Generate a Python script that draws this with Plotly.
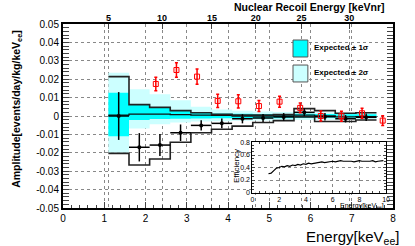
import plotly.graph_objects as go

# ---------------- data ----------------
bin_edges = [1.1, 1.6, 2.1, 2.6, 3.1, 3.6, 4.1, 4.6, 5.1, 5.6, 6.1, 6.6, 7.1, 7.6]

band2_lo = [-0.0200, -0.0068, -0.0045, -0.0035, -0.0030, -0.0028, -0.0026, -0.0025, -0.0025, -0.0022, -0.0022, -0.0020, -0.0020]
band2_hi = [0.0235, 0.0145, 0.0118, 0.0085, 0.0050, 0.0035, 0.0028, 0.0024, 0.0022, 0.0022, 0.0020, 0.0018, 0.0018]
band1_lo = [-0.0110, -0.0022, -0.0016, -0.0015, -0.0013, -0.0012, -0.0012, -0.0012, -0.0012, -0.0011, -0.0010, -0.0010, -0.0010]
band1_hi = [0.0127, 0.0060, 0.0045, 0.0030, 0.0018, 0.0013, 0.0012, 0.0011, 0.0011, 0.0012, 0.0011, 0.0010, 0.0010]
median = [0.0005, 0.0010, 0.0010, 0.0008, 0.0005, 0.0003, 0.0000, 0.0000, 0.0000, 0.0005, 0.0000, -0.0005, -0.0003]

upper_env = [0.0214, 0.0062, 0.0047, 0.0029, 0.0018, 0.0009, 0.0005, 0.0005, 0.0008, 0.0040, 0.0029, 0.0015, 0.0018]
lower_env = [-0.0203, -0.0266, -0.0234, -0.0143, -0.0091, -0.0072, -0.0055, -0.0035, -0.0025, -0.0005, -0.0030, -0.0030, -0.0022]

data_e = [1.35, 1.85, 2.35, 2.85, 3.35, 3.85, 4.35, 4.85, 5.35, 5.85, 6.35, 6.85, 7.35]
data_a = [0.0000, -0.0170, -0.0158, -0.0091, -0.0051, -0.0040, -0.0015, -0.0011, -0.0005, 0.0020, -0.0004, -0.0015, -0.0007]
data_err = [0.0130, 0.0077, 0.0060, 0.0045, 0.0028, 0.0026, 0.0025, 0.0022, 0.0021, 0.0021, 0.0020, 0.0020, 0.0020]
data_halfwidth = [0.25] * 13

red_e = [2.25, 2.75, 3.25, 3.75, 4.25, 4.75, 5.25, 5.75, 6.25, 6.75, 7.25, 7.75]
red_a = [0.0174, 0.0250, 0.0214, 0.0082, 0.0080, 0.0054, 0.0078, 0.0044, 0.0000, -0.0001, 0.0015, -0.0025]
red_err = [0.0037, 0.0040, 0.0042, 0.0036, 0.0036, 0.0030, 0.0030, 0.0027, 0.0027, 0.0027, 0.0027, 0.0027]

y_tick_vals = [-0.05, -0.04, -0.03, -0.02, -0.01, 0, 0.01, 0.02, 0.03, 0.04, 0.05]
y_tick_text = ["-0.05", "-0.04", "-0.03", "-0.02", "-0.01", "0", "0.01", "0.02", "0.03", "0.04", "0.05"]

nr_tick_labels = ["5", "10", "15", "20", "25", "30"]
nr_tick_ee = [1.10, 2.40, 3.61, 4.67, 5.78, 6.94]

eff_e = [1.2, 1.4, 1.6, 1.8, 2.0, 2.2, 2.4, 2.6, 2.8, 3.0, 3.2, 3.4, 3.6, 3.8, 4.0, 4.2, 4.4, 4.6, 4.8, 5.0,
         5.2, 5.4, 5.6, 5.8, 6.0, 6.2, 6.4, 6.6, 6.8, 7.0, 7.2, 7.4, 7.6, 7.8, 8.0, 8.2, 8.4, 8.6, 8.8, 9.0,
         9.2, 9.4, 9.6, 9.8]
eff_v = [0.30, 0.31, 0.35, 0.39, 0.40, 0.42, 0.41, 0.43, 0.42, 0.44, 0.43, 0.45, 0.44, 0.46, 0.45, 0.47, 0.46, 0.47, 0.48, 0.48,
         0.49, 0.48, 0.49, 0.49, 0.50, 0.49, 0.50, 0.51, 0.50, 0.50, 0.51, 0.50, 0.49, 0.50, 0.51, 0.50, 0.50, 0.49, 0.50, 0.51,
         0.49, 0.50, 0.50, 0.51]


def step(v):
    return list(v) + [v[-1]]


FONT = "Liberation Sans, Arial, Helvetica, sans-serif"
CYAN = "#00ffff"
LCYAN = "#ccffff"

fig = go.Figure()

fig.add_trace(go.Scatter(x=bin_edges, y=step(band2_lo), mode="lines", line=dict(width=0, shape="hv"),
                         showlegend=False, hoverinfo="skip"))
fig.add_trace(go.Scatter(x=bin_edges, y=step(band2_hi), mode="lines", line=dict(width=0, shape="hv"),
                         fill="tonexty", fillcolor=LCYAN, showlegend=False, hoverinfo="skip"))
fig.add_trace(go.Scatter(x=bin_edges, y=step(band1_lo), mode="lines", line=dict(width=0, shape="hv"),
                         showlegend=False, hoverinfo="skip"))
fig.add_trace(go.Scatter(x=bin_edges, y=step(band1_hi), mode="lines", line=dict(width=0, shape="hv"),
                         fill="tonexty", fillcolor=CYAN, showlegend=False, hoverinfo="skip"))
fig.add_trace(go.Scatter(x=bin_edges, y=step(median), mode="lines", line=dict(width=1.3, color="#111", shape="hv"),
                         showlegend=False))
fig.add_trace(go.Scatter(x=bin_edges, y=step(upper_env), mode="lines", line=dict(width=1.6, color="#222", shape="hv"),
                         showlegend=False))
fig.add_trace(go.Scatter(x=bin_edges, y=step(lower_env), mode="lines", line=dict(width=1.6, color="#222", shape="hv"),
                         showlegend=False))

fig.add_trace(go.Scatter(x=data_e, y=data_a, mode="markers",
                         marker=dict(symbol="circle", size=4, color="black"),
                         error_y=dict(type="data", array=data_err, color="black", thickness=1.5, width=0),
                         error_x=dict(type="data", array=data_halfwidth, color="black", thickness=1.5, width=0),
                         showlegend=False))
fig.add_trace(go.Scatter(x=red_e, y=red_a, mode="markers",
                         marker=dict(symbol="square-open", size=5, color="red", line=dict(width=1, color="red")),
                         error_y=dict(type="data", array=red_err, color="red", thickness=1.5, width=1.5),
                         showlegend=False))

fig.add_trace(go.Scatter(x=eff_e, y=eff_v, mode="lines", line=dict(color="black", width=1.2),
                         xaxis="x3", yaxis="y3", showlegend=False))

fig.add_trace(go.Scatter(x=[0], y=[0], mode="markers", marker=dict(opacity=0), xaxis="x2", yaxis="y",
                         showlegend=False, hoverinfo="skip"))

grid = dict(showgrid=True, gridcolor="#888", gridwidth=1, griddash="dot", automargin=False)

fig.update_layout(
    template="none",
    autosize=False,
    width=415, height=246,
    margin=dict(l=63, r=22, t=24, b=38, pad=0),
    paper_bgcolor="white", plot_bgcolor="white",
    font=dict(family=FONT, color="black", size=10),
    showlegend=False,
    xaxis=dict(range=[0, 8], dtick=1, tick0=0, ticks="inside", ticklen=6, tickwidth=1,
               showline=True, linecolor="black", linewidth=2, mirror=True, zeroline=False,
               minor=dict(ticks="inside", ticklen=3, dtick=0.2, showgrid=False),
               tickfont=dict(size=10), **grid),
    yaxis=dict(range=[-0.05, 0.05], tickvals=y_tick_vals, ticktext=y_tick_text, ticks="inside", ticklen=6,
               showline=True, linecolor="black", linewidth=2, mirror="allticks", zeroline=False,
               minor=dict(ticks="inside", ticklen=3, dtick=0.002, tick0=0, showgrid=False),
               tickfont=dict(size=10), **grid),
    xaxis2=dict(range=[0, 8], overlaying="x", side="top", anchor="y", tickvals=nr_tick_ee, ticktext=nr_tick_labels,
                ticks="inside", ticklen=5, showline=False, zeroline=False,
                tickfont=dict(size=9, weight="bold"), **grid),
    xaxis3=dict(domain=[0.574, 0.979], anchor="y3", range=[0, 10], tickvals=[0, 2, 4, 6, 8, 10],
                ticks="inside", ticklen=3, showline=True, linecolor="black", linewidth=1, mirror="allticks",
                zeroline=False, tickfont=dict(size=7), ticklabelstandoff=0,
                minor=dict(ticks="inside", ticklen=2, dtick=0.5, showgrid=False), **grid),
    yaxis3=dict(domain=[0.084, 0.356], anchor="x3", range=[0, 0.8], tickvals=[0, 0.2, 0.4, 0.6, 0.8],
                ticks="inside", ticklen=3, showline=True, linecolor="black", linewidth=1, mirror="allticks",
                zeroline=False, tickfont=dict(size=7),
                minor=dict(ticks="inside", ticklen=2, dtick=0.05, showgrid=False), **grid),
    shapes=[
        dict(type="rect", xref="x3", yref="y3", x0=0, x1=10, y0=0, y1=0.8, fillcolor="white",
             line=dict(width=0), layer="below"),
        dict(type="rect", xref="paper", yref="paper", x0=0.697, x1=0.742, y0=0.8207, y1=0.913,
             fillcolor=CYAN, line=dict(color="#555", width=1)),
        dict(type="rect", xref="paper", yref="paper", x0=0.697, x1=0.742, y0=0.685, y1=0.777,
             fillcolor=LCYAN, line=dict(color="#555", width=1)),
    ],
    annotations=[
        dict(text="Nuclear Recoil Energy [keVnr]", xref="paper", yref="paper", x=0.982, y=1.094,
             xanchor="right", yanchor="middle", showarrow=False, font=dict(size=10.5, weight="bold")),
        dict(text="Amplitude[events/day/kg/keV<sub>ee</sub>]", xref="paper", yref="paper", x=-0.14, y=0.538,
             xanchor="center", yanchor="middle", textangle=-90, showarrow=False,
             font=dict(size=10.5, weight="bold")),
        dict(text="Energy[keV<sub>ee</sub>]", xref="paper", yref="paper", x=1.024, y=-0.163,
             xanchor="right", yanchor="middle", showarrow=False, font=dict(size=15)),
        dict(text="Expected \u00b1 1\u03c3", xref="paper", yref="paper", x=0.7545, y=0.8696,
             xanchor="left", yanchor="middle", showarrow=False, font=dict(size=8, weight="bold")),
        dict(text="Expected \u00b1 2\u03c3", xref="paper", yref="paper", x=0.7545, y=0.7337,
             xanchor="left", yanchor="middle", showarrow=False, font=dict(size=8, weight="bold")),
        dict(text="Efficiency", xref="paper", yref="paper", x=0.524, y=0.228,
             xanchor="center", yanchor="middle", textangle=-90, showarrow=False, font=dict(size=8)),
        dict(text="Energy[keV<sub>ee</sub>]", xref="paper", yref="paper", x=0.979, y=0.012,
             xanchor="right", yanchor="middle", showarrow=False, font=dict(size=7)),
    ],
)

fig.write_html("out.html", config={"responsive": False, "displayModeBar": False},
               post_script="document.body.style.margin='0';document.body.style.overflow='hidden';")
